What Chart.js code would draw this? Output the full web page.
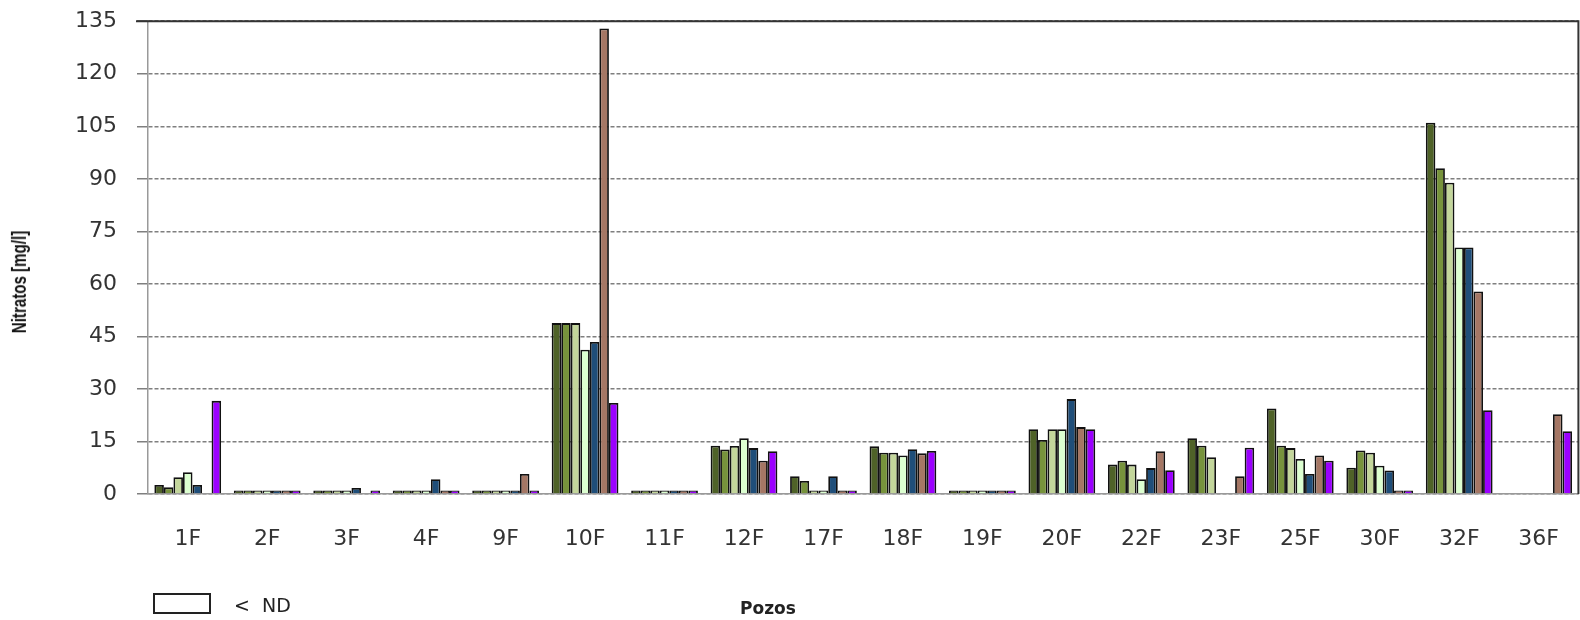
<!DOCTYPE html>
<html>
<head>
<meta charset="utf-8">
<script src="https://cdn.jsdelivr.net/npm/chart.js@4"></script>
<style>
  body { margin: 0; background: #fff; overflow: hidden; }
  #wrap { position: relative; width: 1580px; height: 620px; overflow: hidden; }
  #chart { position: absolute; left: 0; top: -12px; }
  .nd-box { position: absolute; left: 153px; top: 593px; width: 54px; height: 17px; border: 2px solid #222; background: #fff; }
  .nd-txt { position: absolute; left: 234px; top: 594px; font: 19px "DejaVu Sans", sans-serif; color: #222; }
  .pozos { position: absolute; left: 740px; top: 598px; font: bold 17px "DejaVu Sans", sans-serif; color: #222; }
  .ytitle { position: absolute; left: 20px; top: 282px; transform: translate(-50%, -50%) rotate(-90deg) scale(0.84, 1.15);
            white-space: nowrap; font: bold 18px "Liberation Sans Narrow", "Liberation Sans", sans-serif; color: #111; }
</style>
</head>
<body>
<div id="wrap">
  <canvas id="chart" width="1591" height="632"></canvas>
  <div class="ytitle">Nitratos [mg/l]</div>
  <div class="nd-box"></div>
  <div class="nd-txt">&lt;&nbsp; ND</div>
  <div class="pozos">Pozos</div>
</div>
<script>
// categorias (pozos) y ejes
const pozos = ['1F','2F','3F','4F','9F','10F','11F','12F','17F','18F','19F','20F','22F','23F','25F','30F','32F','36F'];
const yTicks = [0, 15, 30, 45, 60, 75, 90, 105, 120, 135];

// valores de nitratos [mg/l] por muestreo (null = sin dato)
const muestreo1 = [2.6, 1, 1, 1, 1, 48.8, 1, 13.8, 5.1, 13.6, 1, 18.5, 8.4, 15.9, 24.4, 7.5, 106, null];
const muestreo2 = [1.9, 1, 1, 1, 1, 48.8, 1, 12.7, 3.7, 11.8, 1, 15.4, 9.5, 13.8, 13.8, 12.4, 93.0, null];
const muestreo3 = [4.8, 1, 1, 1, 1, 48.8, 1, 13.7, 1, 11.8, 1, 18.5, 8.4, 10.5, 13.1, 11.8, 88.9, null];
const muestreo4 = [6.2, 1, 1, 1, 1, 41.2, 1, 15.9, 1, 11.0, 1, 18.5, 4.2, null, 10.0, 8.1, 70.4, null];
const muestreo5 = [2.6, 1, 1.7, 4.2, 1, 43.4, 1, 13.1, 5.1, 12.8, 1, 27.1, 7.4, null, 5.7, 6.7, 70.4, null];
const muestreo6 = [null, 1, null, 1, 5.7, 132.9, 1, 9.5, 1, 11.6, 1, 19.1, 12.2, 5.1, 11.0, 1, 57.8, 22.8];
const muestreo7 = [26.6, 1, 1, 1, 1, 26.0, 1, 12.2, 1, 12.3, 1, 18.5, 6.8, 13.2, 9.5, 1, 23.9, 17.9];

const series = [muestreo1, muestreo2, muestreo3, muestreo4, muestreo5, muestreo6, muestreo7];
const colores = ['#4f6228', '#77933c', '#c3d69b', '#dcffd0', '#1f4e79', '#a57765', '#9b00ff'];

// marco superior y derecho del area de trazado
const marco = {
  id: 'marco',
  afterDraw(chart) {
    const { ctx, chartArea: a } = chart;
    ctx.save();
    ctx.strokeStyle = '#333';
    ctx.lineWidth = 2;
    ctx.beginPath();
    ctx.moveTo(a.left - 12, a.top);
    ctx.lineTo(a.right, a.top);
    ctx.lineTo(a.right, a.bottom);
    ctx.stroke();
    ctx.restore();
  }
};

const ctx = document.getElementById('chart').getContext('2d');
new Chart(ctx, {
  type: 'bar',
  data: {
    labels: pozos,
    datasets: series.map((d, i) => ({
      label: 'Muestreo ' + (i + 1),
      data: d,
      backgroundColor: colores[i],
      borderColor: '#111',
      borderWidth: 1.8,
      categoryPercentage: 0.84,
      barPercentage: 1.0
    }))
  },
  options: {
    responsive: false,
    animation: false,
    layout: { padding: { top: 8, right: 0, left: 0, bottom: 0 } },
    plugins: { legend: { display: false }, tooltip: { enabled: false } },
    scales: {
      x: {
        grid: { display: false, tickLength: 0 },
        border: { color: '#999', width: 1.5 },
        ticks: { color: '#333', padding: 32, font: { family: 'DejaVu Sans', size: 22 } },
        afterFit(scale) { scale.height = 126; }
      },
      y: {
        min: 0,
        max: 135,
        afterBuildTicks(scale) { scale.ticks = yTicks.map(v => ({ value: v })); },
        grid: { color: '#7f7f7f', lineWidth: 1.5, tickLength: 11 },
        border: { color: '#999', width: 1.5, dash: [4, 2] },
        ticks: { color: '#333', padding: 20, font: { family: 'DejaVu Sans', size: 22 } },
        afterFit(scale) { scale.width = 148; }
      }
    }
  },
  plugins: [marco]
});
</script>
</body>
</html>
